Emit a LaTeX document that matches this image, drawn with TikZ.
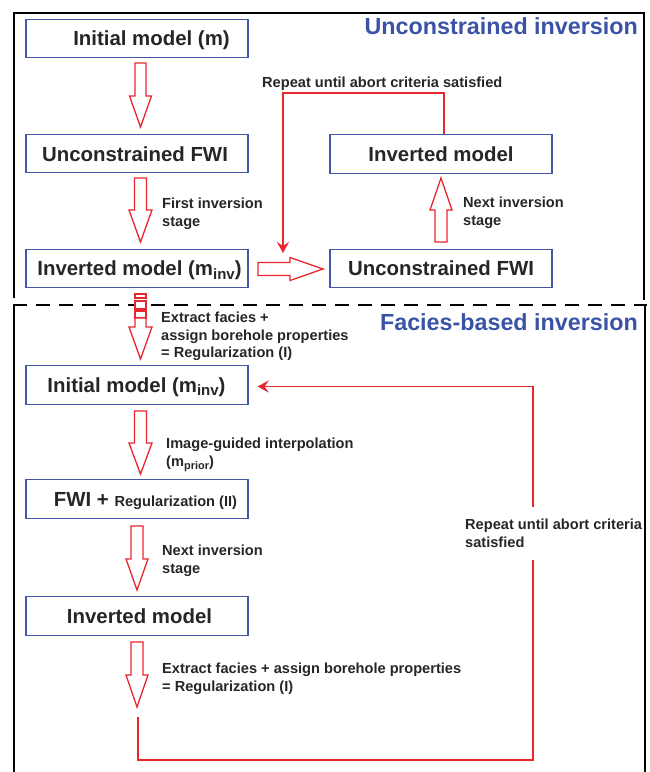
\documentclass[tikz,border=0pt]{standalone}
\usepackage{fontspec}
\setmainfont{Liberation Sans}
\usetikzlibrary{arrows.meta,calc}
\definecolor{boxblue}{HTML}{4358A6}
\definecolor{ttlblue}{HTML}{3A53A4}
\definecolor{ared}{HTML}{E8262E}
\definecolor{txt}{HTML}{262626}
\newcommand\bigf{\fontsize{20.4pt}{24pt}\selectfont\bfseries}
\newcommand\smf{\fontsize{14.6pt}{17.6pt}\selectfont\bfseries}
\newcommand\ttlf{\fontsize{23.3pt}{28pt}\selectfont\bfseries}
\newcommand\bsub[1]{\raisebox{-3.5pt}{\fontsize{15pt}{15pt}\selectfont #1}}
\newcommand\ssub[1]{\raisebox{-3pt}{\fontsize{11pt}{11pt}\selectfont #1}}
\newcommand\varr[6]{\draw[blk] (#1-#5,#2) -- (#1-#5,#3) -- (#1-#6,#3) -- (#1,#4) -- (#1+#6,#3) -- (#1+#5,#3) -- (#1+#5,#2) -- cycle;}
\begin{document}
\begin{tikzpicture}[x=1pt,y=-1pt,
  box/.style={draw=boxblue, line width=1.3pt, minimum width=222pt, minimum height=38.5pt, inner sep=0pt},
  bt/.style={text=txt, font=\bigf, inner sep=0pt, anchor=base},
  lbl/.style={text=txt, font=\smf, inner sep=0pt, anchor=north west, align=left},
  ttl/.style={text=ttlblue, font=\ttlf, inner sep=0pt, anchor=north east},
  blk/.style={draw=ared, line width=1.3pt, fill=white, line join=miter},
  redl/.style={draw=ared, line width=1.4pt},
  frame/.style={draw=black, line width=2.6pt}]
\useasboundingbox (0,0) rectangle (649,772);
% frames
\draw[frame] (14,298) -- (14,13) -- (644,13) -- (644,300);
\draw[frame, dash pattern=on 14pt off 9pt] (13,305) -- (647,305);
\draw[frame] (14,305) -- (14,772);
\draw[frame] (645,305) -- (645,772);
% titles
\node[ttl] (title1) at (638,17.5) {Unconstrained inversion};
\node[ttl] (title2) at (638,313.5) {Facies-based inversion};
% boxes
\node[box] (b1) at (137,38.5) {};
\node[box] (b2) at (137,153.5) {};
\node[box] (b3) at (137,268.5) {};
\node[box] (b4) at (441,268.5) {};
\node[box] (b5) at (441,154) {};
\node[box] (b6) at (137,385) {};
\node[box] (b7) at (137,499) {};
\node[box] (b8) at (137,616) {};
% box texts
\node[bt] (t1) at (151.5,45.5) {Initial model (m)};
\node[bt] (t2) at (135,161) {Unconstrained FWI};
\node[bt] (t3) at (139.5,275.5) {Inverted model (m\bsub{inv})};
\node[bt] (t4) at (441,275.5) {Unconstrained FWI};
\node[bt] (t5) at (441,161) {Inverted model};
\node[bt] (t6) at (136.5,392) {Initial model (m\bsub{inv})};
\node[bt] (t7) at (145.5,506) {FWI + {\smf Regularization (II)}};
\node[bt] (t8) at (139.5,623) {Inverted model};
% block arrows
\varr{140.5}{63}{96}{127}{5.5}{11}
\varr{140.5}{178}{210}{242}{6}{11.5}
\draw[blk] (258,262.5) -- (290,262.5) -- (290,257.5) -- (323,269) -- (290,280.5) -- (290,275.5) -- (258,275.5) -- cycle;
\varr{441}{242}{210}{178}{6}{11}
\draw[blk] (135,294) rectangle (146,298);
\draw[blk] (135,301) rectangle (146,309);
\draw[blk] (135,311) rectangle (146,318);
\varr{140.5}{318}{327}{359}{5.5}{11.5}
\varr{140.5}{411}{443}{474}{6}{11.5}
\varr{137}{526}{559}{590}{6}{11}
\varr{137}{642}{675}{707}{6}{11}
% red loops
\coordinate (lt) at (283,253);
\draw[redl, -{Stealth[length=11pt,width=12pt,inset=4pt]}] ([xshift=3pt]b5.north) |- ++(0,-41) -| (lt);
\coordinate (ls) at (138,717);
\coordinate (le) at (533,560);
\coordinate (lr) at (533,507);
\draw[redl] (ls) |- (533,760) -- (le);
\draw[redl, -{Stealth[length=11pt,width=12pt,inset=4pt]}, shorten >=9pt] (lr) |- ([yshift=-1.5pt]b6.east);
% labels
\node[lbl] (l1) at (162,198) {First inversion\\stage};
\node[lbl] (l2) at (463,197) {Next inversion\\stage};
\node[lbl] (l3) at (262,77) {Repeat until abort criteria satisfied};
\node[lbl] (l4) at (161,312) {Extract facies +\\assign borehole properties\\= Regularization (I)};
\node[lbl] (l5) at (166,438) {Image-guided interpolation\\(m\ssub{prior})};
\node[lbl] (l6) at (162,545) {Next inversion\\stage};
\node[lbl] (l7) at (162,663) {Extract facies + assign borehole properties\\= Regularization (I)};
\node[lbl] (l8) at (465,519) {Repeat until abort criteria\\satisfied};
\end{tikzpicture}
\end{document}
